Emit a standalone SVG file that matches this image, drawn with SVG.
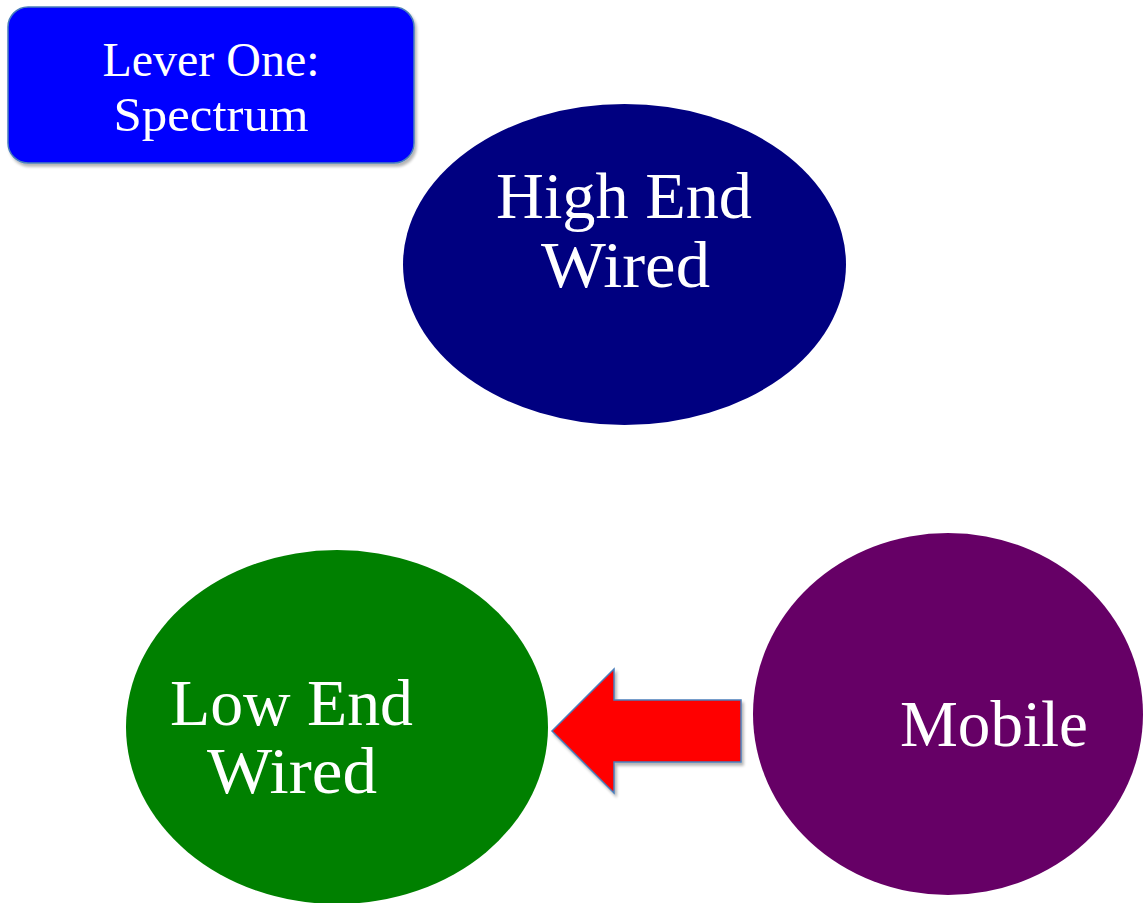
<svg xmlns="http://www.w3.org/2000/svg" width="1143" height="903" viewBox="0 0 1143 903">
<defs>
<filter id="sh" x="-10%" y="-10%" width="130%" height="130%">
<feGaussianBlur in="SourceAlpha" stdDeviation="1.5"/>
<feOffset dx="2" dy="3" result="b"/>
<feComponentTransfer><feFuncA type="linear" slope="0.3"/></feComponentTransfer>
<feMerge><feMergeNode/><feMergeNode in="SourceGraphic"/></feMerge>
</filter>
</defs>
<style>
.t{font-family:"Liberation Serif","Times New Roman",serif;fill:#ffffff;text-anchor:middle}
</style>
<rect width="1143" height="903" fill="#ffffff"/>
<g id="lever">
<rect x="8" y="7" width="406" height="156" rx="20" fill="#0000ff" stroke="#4a7ebb" stroke-width="1.5" filter="url(#sh)"/>
<text class="t" x="211" y="76" font-size="48" textLength="217" lengthAdjust="spacingAndGlyphs">Lever One:</text>
<text class="t" x="211" y="131" font-size="48" textLength="195" lengthAdjust="spacingAndGlyphs">Spectrum</text>
</g>
<g id="high">
<ellipse cx="624.5" cy="264.5" rx="221.5" ry="160.5" fill="#000080"/>
<text class="t" x="624" y="218" font-size="66" textLength="256" lengthAdjust="spacingAndGlyphs">High End</text>
<text class="t" x="625.5" y="287" font-size="66" textLength="169" lengthAdjust="spacingAndGlyphs">Wired</text>
</g>
<g id="low">
<ellipse cx="337" cy="727" rx="211" ry="177" fill="#008000"/>
<text class="t" x="291.5" y="725" font-size="66" textLength="243" lengthAdjust="spacingAndGlyphs">Low End</text>
<text class="t" x="292" y="793" font-size="66" textLength="170" lengthAdjust="spacingAndGlyphs">Wired</text>
</g>
<g id="mobile">
<ellipse cx="948" cy="714" rx="195" ry="181" fill="#660066"/>
<text class="t" x="994" y="746" font-size="66" textLength="188" lengthAdjust="spacingAndGlyphs">Mobile</text>
</g>
<g id="connectors">
<polygon points="552,731 614,669 614,700 741,700 741,762 614,762 614,793" fill="#ff0000" stroke="#4a7ebb" stroke-width="1.5" stroke-linejoin="miter" filter="url(#sh)"/>
</g>
</svg>
